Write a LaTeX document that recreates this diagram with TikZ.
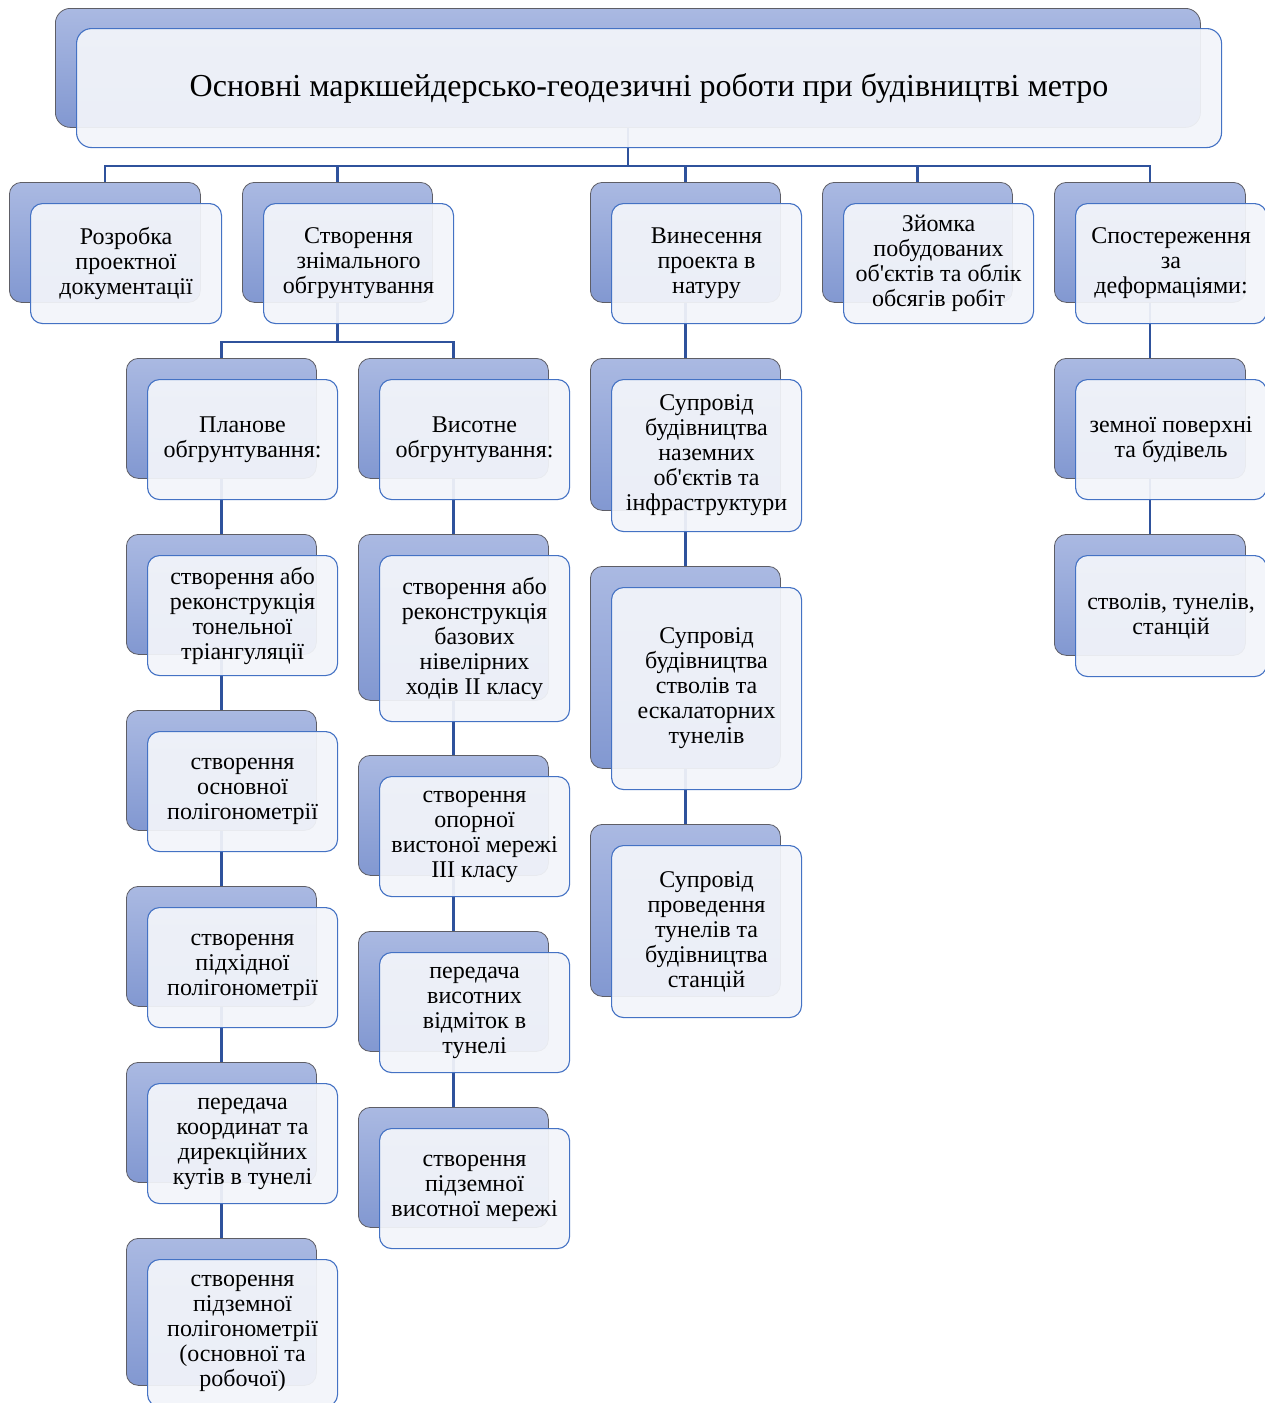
\documentclass[tikz,border=0pt]{standalone}
\usepackage{fontspec}
\setmainfont{Liberation Serif}[Ligatures=TeXOff]
\newcommand{\apos}{{\char"27\relax}}
\pgfdeclarelayer{bg}
\pgfsetlayers{bg,main}
\definecolor{conncol}{HTML}{2F529C}
\definecolor{frontline}{HTML}{4472C4}
\definecolor{frontfill}{HTML}{F3F5FA}
\definecolor{backtop}{HTML}{AAB9E2}
\definecolor{backbot}{HTML}{8298D1}
\definecolor{backline}{HTML}{5E5E66}
\tikzset{
  backbox/.style={rectangle, rounded corners=12pt, top color=backtop, bottom color=backbot, draw=backline, line width=0.8pt, inner sep=0pt},
  frontbox/.style={rectangle, rounded corners=12pt, draw=frontline, line width=1.1pt, fill=frontfill, fill opacity=0.93, text opacity=1, align=center, inner sep=2pt, font=\fontsize{24}{25}\selectfont},
  conn/.style={draw=conncol, line width=2.6pt},
}
\newcommand{\mybox}[6]{%
  \node[backbox, minimum width=#4pt, minimum height=#5pt, anchor=north west] (#1B) at (#2,#3) {};
  \node[frontbox, minimum width=#4pt, minimum height=#5pt, anchor=north west] (#1) at ([shift={(21,21)}]#1B.north west) {#6};}
\begin{document}
\begin{tikzpicture}[x=1pt,y=-1pt]
\useasboundingbox (0,0) rectangle (1265,1403);
% title
\node[backbox, rounded corners=15pt, minimum width=1145pt, minimum height=119pt, anchor=north west] (titleB) at (55,8) {};
\node[frontbox, rounded corners=15pt, minimum width=1145pt, minimum height=119pt, anchor=north west, font=\fontsize{32}{36}\selectfont] (title) at ([shift={(21,20)}]titleB.north west) {Основні маркшейдерсько-геодезичні роботи при будівництві метро};
% level 1
\mybox{roz}{9}{182}{191}{120}{Розробка\\проектної\\документації}
\mybox{stv}{242}{182}{190}{120}{Створення\\знімального\\обгрунтування}
\mybox{vyn}{590}{182}{190}{120}{Винесення\\проекта в\\натуру}
\mybox{zyom}{822}{182}{190}{120}{Зйомка\\побудованих\\об\apos єктів та облік\\обсягів робіт}
\mybox{spost}{1054}{182}{191}{120}{Спостереження\\за\\деформаціями:}
% level 2
\mybox{plan}{126}{358}{190}{120}{Планове\\обгрунтування:}
\mybox{vys}{358}{358}{190}{120}{Висотне\\обгрунтування:}
% left column
\mybox{la}{126}{534}{190}{120}{створення або\\реконструкція\\тонельної\\тріангуляції}
\mybox{lb}{126}{710}{190}{120}{створення\\основної\\полігонометрії}
\mybox{lc}{126}{886}{190}{120}{створення\\підхідної\\полігонометрії}
\mybox{ld}{126}{1062}{190}{120}{передача\\координат та\\дирекційних\\кутів в тунелі}
\mybox{le}{126}{1238}{190}{147}{створення\\підземної\\полігонометрії\\(основної та\\робочої)}
% middle column
\mybox{ma}{358}{534}{190}{166}{створення або\\реконструкція\\базових\\нівелірних\\ходів II класу}
\mybox{mb}{358}{755}{190}{120}{створення\\опорної\\вистоної мережі\\III класу}
\mybox{mc}{358}{931}{190}{120}{передача\\висотних\\відміток  в\\тунелі}
\mybox{md}{358}{1107}{190}{120}{створення\\підземної\\висотної мережі}
% vynesennia column
\mybox{ra}{590}{358}{190}{152}{Супровід\\будівництва\\наземних\\об\apos єктів та\\інфраструктури}
\mybox{rb}{590}{566}{190}{202}{Супровід\\будівництва\\стволів та\\ескалаторних\\тунелів}
\mybox{rc}{590}{824}{190}{172}{Супровід\\проведення\\тунелів та\\будівництва\\станцій}
% sposterezhennia column
\mybox{sa}{1054}{358}{191}{120}{земної поверхні\\та будівель}
\mybox{sb}{1054}{534}{191}{121}{стволів, тунелів,\\станцій}
% connectors
\begin{pgfonlayer}{bg}
\fill[white] (0,0) rectangle (1265,1403);
\foreach \c in {roz,stv,vyn,zyom,spost}{
  \draw[conn] (titleB.south) -- ++(0,38) -| (\c B.north);
}
\foreach \c in {plan,vys}{
  \draw[conn] (stvB.south) -- ++(0,39) -| (\c B.north);
}
\draw[conn] (planB.south) -- (laB.north);
\draw[conn] (laB.south) -- (lbB.north);
\draw[conn] (lbB.south) -- (lcB.north);
\draw[conn] (lcB.south) -- (ldB.north);
\draw[conn] (ldB.south) -- (leB.north);
\draw[conn] (vysB.south) -- (maB.north);
\draw[conn] (maB.south) -- (mbB.north);
\draw[conn] (mbB.south) -- (mcB.north);
\draw[conn] (mcB.south) -- (mdB.north);
\draw[conn] (vynB.south) -- (raB.north);
\draw[conn] (raB.south) -- (rbB.north);
\draw[conn] (rbB.south) -- (rcB.north);
\draw[conn] (spostB.south) -- (saB.north);
\draw[conn] (saB.south) -- (sbB.north);
\end{pgfonlayer}
\end{tikzpicture}
\end{document}
